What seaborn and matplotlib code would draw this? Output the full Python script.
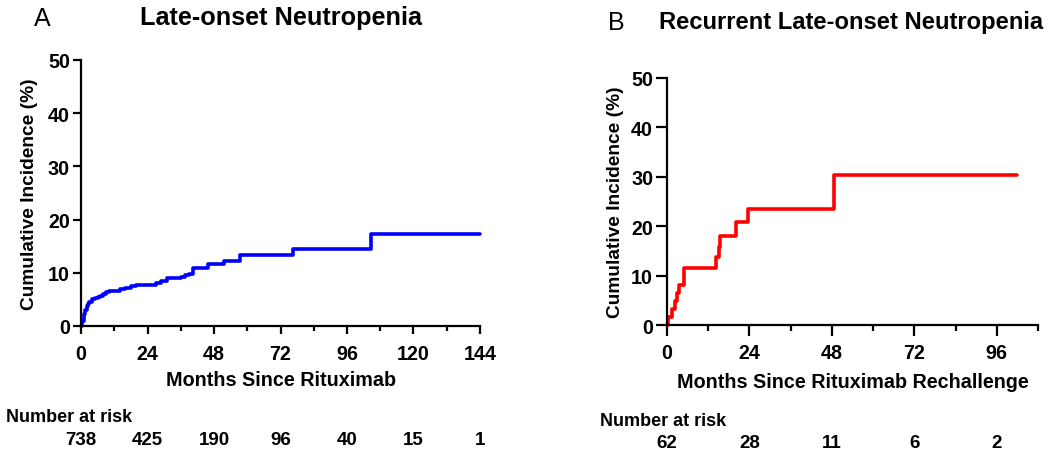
import numpy as np
import pandas as pd
import seaborn as sns
import matplotlib
matplotlib.use("Agg")
import matplotlib.pyplot as plt
from matplotlib.ticker import MultipleLocator
from matplotlib.transforms import blended_transform_factory

# Panel A: Late-onset neutropenia (step curve, months vs cumulative incidence %)
months_a = [0, 0.5, 1, 1.5, 2, 2.5, 3, 4, 5, 6, 7, 8, 9, 10, 12, 14, 16, 18, 20, 22,
            27, 29, 31, 36, 37.5, 39, 40.5, 46, 51.5, 57.5, 76.5, 104.5, 144]
incidence_a = [0, 1.0, 2.2, 3.0, 3.8, 4.2, 4.6, 5.0, 5.2, 5.4, 5.6, 6.0, 6.4, 6.5, 6.6, 6.9, 7.2, 7.5, 7.7, 7.8,
               8.1, 8.4, 9.0, 9.2, 9.5, 9.8, 10.9, 11.7, 12.3, 13.4, 14.4, 17.3, 17.3]
risk_times_a = [0, 24, 48, 72, 96, 120, 144]
at_risk_a = [738, 425, 190, 96, 40, 15, 1]

# Panel B: Recurrent late-onset neutropenia after rechallenge
months_b = [0, 0.4, 1.4, 2.2, 2.8, 3.5, 5, 14.3, 15, 15.3, 20.1, 23.7, 48.5, 102]
incidence_b = [0, 1.6, 3.2, 4.8, 6.5, 8.1, 11.5, 13.7, 15.8, 18.0, 20.8, 23.5, 30.4, 30.4]
risk_times_b = [0, 24, 48, 72, 96]
at_risk_b = [62, 28, 11, 6, 2]

sns.set_theme(style="ticks")
plt.rcParams["font.family"] = ["Liberation Sans", "DejaVu Sans"]
plt.rcParams["font.weight"] = "bold"
plt.rcParams["axes.labelweight"] = "bold"
plt.rcParams["text.color"] = "black"
plt.rcParams["axes.labelcolor"] = "black"

fig = plt.figure(figsize=(10.5, 4.56), dpi=100)
ax_a = fig.add_axes([81 / 1050, 1 - 327 / 456, 399 / 1050, 266 / 456])
ax_b = fig.add_axes([667 / 1050, 1 - 326 / 456, 371 / 1050, 247 / 456])


def draw_panel(ax, months, incidence, color, xmax, xlabel, tick_len, tick_pad, ylabel_pad, xlabel_pad):
    df = pd.DataFrame({"months": months, "incidence": incidence})
    sns.lineplot(data=df, x="months", y="incidence", ax=ax, color=color,
                 drawstyle="steps-post", estimator=None, linewidth=2.6, clip_on=False)
    ax.set_xlim(0, xmax)
    ax.set_ylim(0, 50)
    ax.xaxis.set_major_locator(MultipleLocator(24))
    ax.xaxis.set_minor_locator(MultipleLocator(12))
    ax.yaxis.set_major_locator(MultipleLocator(10))
    sns.despine(ax=ax)
    for s in ["left", "bottom"]:
        ax.spines[s].set_linewidth(1.6)
        ax.spines[s].set_color("black")
    ax.tick_params(axis="both", which="major", length=tick_len, width=1.6, color="black",
                   labelsize=14.2, labelcolor="black")
    ax.tick_params(axis="x", which="major", pad=tick_pad)
    ax.tick_params(axis="y", which="major", pad=2)
    ax.tick_params(axis="x", which="minor", length=tick_len * 0.55, width=1.6, color="black")
    for lab in ax.get_xticklabels() + ax.get_yticklabels():
        lab.set_fontweight("bold")
    ax.set_xlabel(xlabel, fontsize=14.2, labelpad=xlabel_pad)
    ax.set_ylabel("Cumulative Incidence (%)", fontsize=13.8, labelpad=ylabel_pad)


draw_panel(ax_a, months_a, incidence_a, "#0000ff", 144, "Months Since Rituximab", 6, 7, 7, 5)
draw_panel(ax_b, months_b, incidence_b, "#ff0000", 108, "Months Since Rituximab Rechallenge", 8, 5, 5, 7)

# panel letters and titles
fig.text(42 / 1050, 1 - 18.5 / 456, "A", fontsize=18, fontweight="normal", ha="center", va="center")
fig.text(281.5 / 1050, 1 - 18.5 / 456, "Late-onset Neutropenia", fontsize=18.2, ha="center", va="center")
fig.text(616 / 1050, 1 - 22.5 / 456, "B", fontsize=18, fontweight="normal", ha="center", va="center")
fig.text(851.5 / 1050, 1 - 22.5 / 456, "Recurrent Late-onset Neutropenia", fontsize=17.1, ha="center", va="center")

# number at risk tables
fig.text(6 / 1050, 1 - 418 / 456, "Number at risk", fontsize=13, ha="left", va="center")
tr_a = blended_transform_factory(ax_a.transData, fig.transFigure)
for t, n in zip(risk_times_a, at_risk_a):
    ax_a.text(t, 1 - 441 / 456, str(n), transform=tr_a, fontsize=13.5, ha="center", va="center", clip_on=False)

fig.text(600 / 1050, 1 - 422 / 456, "Number at risk", fontsize=13, ha="left", va="center")
tr_b = blended_transform_factory(ax_b.transData, fig.transFigure)
for t, n in zip(risk_times_b, at_risk_b):
    ax_b.text(t, 1 - 444 / 456, str(n), transform=tr_b, fontsize=13.5, ha="center", va="center", clip_on=False)

fig.savefig("out.png", dpi=100, facecolor="white")
